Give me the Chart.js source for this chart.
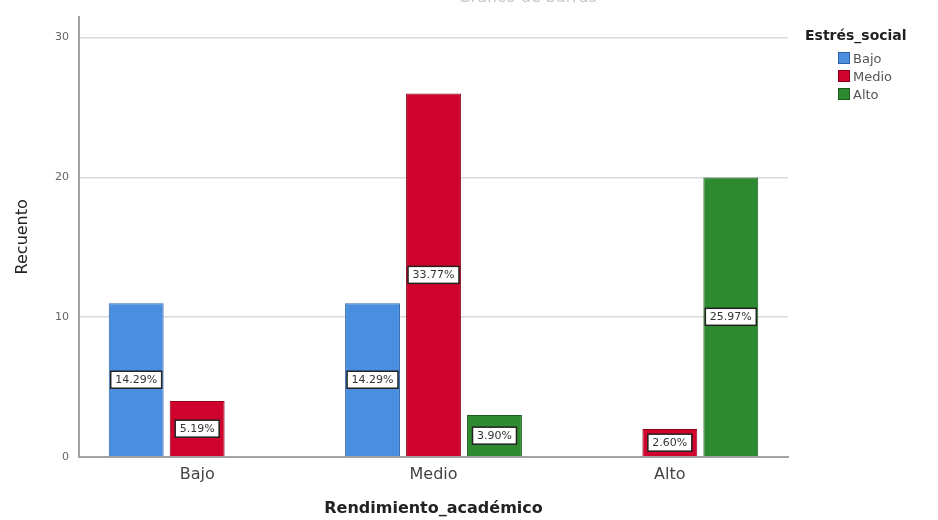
<!DOCTYPE html>
<html>
<head>
<meta charset="utf-8">
<script src="https://cdn.jsdelivr.net/npm/chart.js@4.4.1/dist/chart.umd.min.js"></script>
<style>
  html, body { margin: 0; padding: 0; background: #fff; }
  #wrap { position: relative; width: 938px; height: 520px; overflow: hidden; }
  #chart { position: absolute; left: 0; top: 0; }
  #title { position: absolute; top: -13px; left: 430px; width: 195px; text-align: center;
           font: 16px 'DejaVu Sans'; color: #c8c8c8; }
  #legend { position: absolute; left: 805px; top: 25px; font-family: 'DejaVu Sans'; }
  #legend .lt { font-weight: bold; font-size: 14px; line-height: 20px; color: #222; }
  #legend .items { margin: 4px 0 0 33px; }
  #legend .it { display: flex; align-items: center; height: 18px; font-size: 13px; color: #555; }
  #legend .sw { width: 12px; height: 12px; margin-right: 3px; box-sizing: border-box; border: 1px solid; }
</style>
</head>
<body>
<div id="wrap">
  <canvas id="chart" width="938" height="520"></canvas>
  <div id="title">Gráfico de barras</div>
  <div id="legend"></div>
</div>
<script>
/* ---- data ---- */
const categories = ['Bajo', 'Medio', 'Alto'];          // Rendimiento_académico
const seriesNames = ['Bajo', 'Medio', 'Alto'];         // Estrés_social
const countBajo  = [11, 11, 0];
const countMedio = [4, 26, 2];
const countAlto  = [0, 3, 20];
const yTicks = [0, 10, 20, 30];

const fills   = ['#4a8fdf', '#d0032c', '#2e8a2e'];
const borders = ['#2c63a8', '#8c0019', '#1b5c1b'];
const FONT = 'DejaVu Sans';

const seriesValues = [countBajo, countMedio, countAlto];
const total = seriesValues.flat().reduce((a, b) => a + b, 0);

/* ---- legend (html) ---- */
const legendEl = document.getElementById('legend');
legendEl.innerHTML = '<div class="lt">Estrés_social</div><div class="items">' +
  seriesNames.map((n, i) =>
    `<div class="it"><span class="sw" style="background:${fills[i]};border-color:${borders[i]}"></span>${n}</div>`
  ).join('') + '</div>';

/* ---- percentage boxes in the middle of each bar ---- */
const pctLabels = {
  id: 'pctLabels',
  afterDatasetsDraw(chart) {
    const ctx = chart.ctx;
    ctx.save();
    ctx.font = `11px '${FONT}'`;
    ctx.textAlign = 'center';
    ctx.textBaseline = 'middle';
    chart.data.datasets.forEach((ds, di) => {
      chart.getDatasetMeta(di).data.forEach((bar, i) => {
        const v = ds.data[i];
        if (!v) return;
        const txt = (v / total * 100).toFixed(2) + '%';
        const y = (bar.y + bar.base) / 2;
        const w = ctx.measureText(txt).width + 9;
        const h = 17;
        ctx.fillStyle = '#fff';
        ctx.fillRect(bar.x - w / 2, y - h / 2, w, h);
        ctx.lineWidth = 1.5;
        ctx.strokeStyle = '#222';
        ctx.strokeRect(bar.x - w / 2, y - h / 2, w, h);
        ctx.fillStyle = '#333';
        ctx.fillText(txt, bar.x, y + 0.5);
      });
    });
    ctx.restore();
  }
};

new Chart(document.getElementById('chart'), {
  type: 'bar',
  data: {
    labels: categories,
    datasets: seriesNames.map((n, i) => ({
      label: n,
      data: seriesValues[i],
      backgroundColor: fills[i],
      borderColor: borders[i],
      borderWidth: (c) => (c.raw ? 1 : 0),
      borderSkipped: 'start',
      categoryPercentage: 0.774,
      barPercentage: 0.9,
    })),
  },
  options: {
    responsive: false,
    animation: false,
    layout: { padding: { top: 15, right: 150, bottom: 0, left: 0 } },
    plugins: { legend: { display: false }, tooltip: { enabled: false } },
    scales: {
      x: {
        grid: { display: false, drawTicks: false },
        border: { display: true, color: '#a3a3a3', width: 2 },
        ticks: { font: { family: FONT, size: 16 }, color: '#444', padding: 8 },
        title: {
          display: true, text: 'Rendimiento_académico', color: '#222',
          font: { family: FONT, size: 16, weight: 'bold' }, padding: { top: 0, bottom: 2 },
        },
        afterFit: (s) => { s.height = 63; },
      },
      y: {
        min: yTicks[0],
        max: 31.5,
        afterBuildTicks: (s) => { s.ticks = yTicks.map((v) => ({ value: v })); },
        ticks: { includeBounds: false, font: { family: FONT, size: 11 }, color: '#666', padding: 10 },
        grid: {
          drawTicks: false, lineWidth: 1.5,
          color: (c) => (c.tick && c.tick.value === 0 ? 'rgba(0,0,0,0)' : '#d9d9d9'),
        },
        border: { display: true, color: '#a3a3a3', width: 2 },
        title: {
          display: true, text: 'Recuento', color: '#222',
          font: { family: FONT, size: 16 }, padding: { top: 13, bottom: 0 },
        },
        afterFit: (s) => { s.width = 79; },
      },
    },
  },
  plugins: [pctLabels],
});
</script>
</body>
</html>
